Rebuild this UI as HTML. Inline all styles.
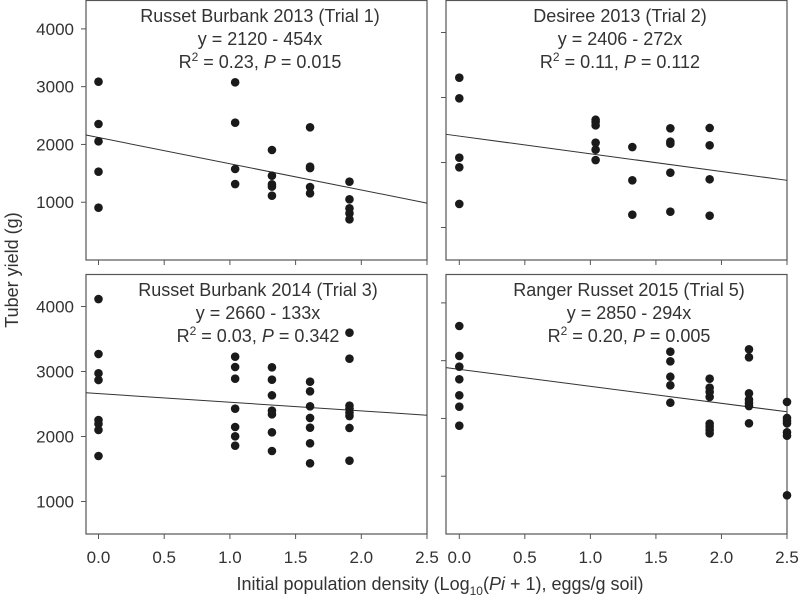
<!DOCTYPE html>
<html><head><meta charset="utf-8"><style>
body{margin:0;background:#fff}
svg text{font-family:"Liberation Sans",sans-serif;fill:#333}
</style></head><body>
<svg id="chart" width="800" height="600" xmlns="http://www.w3.org/2000/svg"></svg>
<script>
const xTicks=[0,0.5,1.0,1.5,2.0,2.5];
const xTickLabels=["0.0","0.5","1.0","1.5","2.0","2.5"];
const yTicks=[1000,2000,3000,4000];
const yTickLabels=["1000","2000","3000","4000"];
const titles=["Russet Burbank 2013 (Trial 1)","Desiree 2013 (Trial 2)","Russet Burbank 2014 (Trial 3)","Ranger Russet 2015 (Trial 5)"];
const eqs=["y = 2120 - 454x","y = 2406 - 272x","y = 2660 - 133x","y = 2850 - 294x"];
const r2s=["0.23","0.11","0.03","0.20"];
const pvals=["0.015","0.112","0.342","0.005"];
const intercepts=[2120,2406,2660,2850];
const slopes=[-454,-272,-133,-294];
const p1x=[0,0,0,0,0,1.04,1.04,1.04,1.04,1.32,1.32,1.32,1.32,1.32,1.61,1.61,1.61,1.61,1.61,1.91,1.91,1.91,1.91,1.91];
const p1y=[3086,2354,2054,1528,905,3075,2376,1575,1315,1904,1459,1310,1270,1113,2297,1615,1590,1263,1154,1355,1050,894,808,704];
const p2x=[0,0,0,0,0,1.04,1.04,1.04,1.04,1.04,1.04,1.32,1.32,1.32,1.61,1.61,1.61,1.61,1.61,1.91,1.91,1.91,1.91];
const p2y=[3305,2988,2074,1926,1362,2658,2623,2572,2305,2197,2038,2238,1726,1197,2526,2320,2289,1843,1243,2531,2265,1742,1182];
const p3x=[0,0,0,0,0,0,0,0,1.04,1.04,1.04,1.04,1.04,1.04,1.04,1.32,1.32,1.32,1.32,1.32,1.32,1.32,1.61,1.61,1.61,1.61,1.61,1.61,1.61,1.91,1.91,1.91,1.91,1.91,1.91,1.91,1.91];
const p3y=[4115,3269,2972,2869,2254,2192,2100,1700,3228,3069,2889,2428,2146,2003,1859,3064,2874,2633,2397,2341,2064,1777,2843,2695,2464,2285,2136,1895,1587,3597,3197,2474,2428,2366,2315,2131,1628];
const p4x=[0,0,0,0,0,0,0,1.61,1.61,1.61,1.61,1.61,1.91,1.91,1.91,1.91,1.91,1.91,1.91,1.91,2.21,2.21,2.21,2.21,2.21,2.21,2.21,2.5,2.5,2.5,2.5,2.5,2.5,2.5];
const p4y=[3600,3081,2896,2678,2401,2203,1875,3155,2989,2722,2574,2272,2688,2532,2458,2371,1909,1857,1800,1743,3197,3058,2435,2324,2267,2215,1916,2285,2008,1956,1916,1760,1701,670];
const ptsX=[p1x,p2x,p3x,p4x], ptsY=[p1y,p2y,p3y,p4y];

const svg=document.getElementById('chart');
const NS='http://www.w3.org/2000/svg';
function mk(tag,attrs,parent){const e=document.createElementNS(NS,tag);for(const k in attrs)e.setAttribute(k,attrs[k]);(parent||svg).appendChild(e);return e;}
const panels=[
 {l:86,r:427,t:0,b:260,ymin:0,ymax:4500,labels:true,xlab:false,x0:98.5},
 {l:446,r:787,t:0,b:260,ymin:500,ymax:4500,labels:false,xlab:false,x0:459.3},
 {l:86,r:427,t:274,b:534,ymin:500,ymax:4500,labels:true,xlab:true,x0:98.5},
 {l:446,r:787,t:274,b:534,ymin:0,ymax:4500,labels:false,xlab:true,x0:459.3}
];
panels.forEach((P,i)=>{
 const sx=v=>P.x0+v*(P.r-P.x0)/2.5;
 const sy=v=>P.b-(v-P.ymin)*(P.b-P.t)/(P.ymax-P.ymin);
 const g=mk('g',{});
 
 
 const fr=mk('rect',{x:P.l,y:P.t+0.5,width:P.r-P.l,height:P.b-P.t-0.5,fill:'none',stroke:'#555','stroke-width':1.2},g);
 
 
 xTicks.forEach((t,j)=>{
  mk('line',{x1:sx(t),x2:sx(t),y1:P.b,y2:P.b+5,stroke:'#555'},g);
  if(P.xlab){const tx=mk('text',{x:sx(t),y:563,'font-size':17,'text-anchor':'middle'},g);tx.textContent=xTickLabels[j];
   
   }
 });
 yTicks.forEach((t,j)=>{
  if(t<P.ymin) return;
  mk('line',{x1:P.l-5,x2:P.l,y1:sy(t),y2:sy(t),stroke:'#555'},g);
  if(P.labels){const tx=mk('text',{x:74,y:sy(t)+6,'font-size':17,'text-anchor':'end'},g);tx.textContent=yTickLabels[j];
   
   }
 });
 const xa=(P.l-P.x0)/((P.r-P.x0)/2.5);
 const ln=mk('line',{x1:P.l,y1:sy(intercepts[i]+slopes[i]*xa),x2:P.r,y2:sy(intercepts[i]+slopes[i]*2.5),stroke:'#333','stroke-width':1},g);
 
 
 ptsX[i].forEach((xv,k)=>{
  const c=mk('circle',{cx:sx(xv),cy:sy(ptsY[i][k]),r:4.3,fill:'#1a1a1a'},g);
  
  
 });
 const cx=[260,620,258,629][i];
 const t1=mk('text',{x:cx,y:P.t+22,'font-size':18,'text-anchor':'middle'},g);t1.textContent=titles[i];
 
 
 const t2=mk('text',{x:cx,y:P.t+45,'font-size':18,'text-anchor':'middle'},g);t2.textContent=eqs[i];
 
 
 const t3=mk('text',{x:cx,y:P.t+68,'font-size':18,'text-anchor':'middle'},g);
 
 
 t3.innerHTML='R<tspan dy="-7" font-size="12">2</tspan><tspan dy="7"> = '+r2s[i]+', </tspan><tspan font-style="italic">P</tspan><tspan> = '+pvals[i]+'</tspan>';
});
</script>
<div style="position:absolute;left:0;top:0;width:800px;height:600px;pointer-events:none">
<svg width="800" height="600" style="position:absolute;left:0;top:0">
<text transform="translate(18,270) rotate(-90)" text-anchor="middle" font-size="18" style="font-family:'Liberation Sans',sans-serif;fill:#333">Tuber yield (g)</text>
<text x="440" y="590" text-anchor="middle" font-size="18" style="font-family:'Liberation Sans',sans-serif;fill:#333">Initial population density (Log<tspan dy="5" font-size="12">10</tspan><tspan dy="-5">(</tspan><tspan font-style="italic">Pi</tspan> + 1), eggs/g soil)</text>
</svg></div>
</body></html>
